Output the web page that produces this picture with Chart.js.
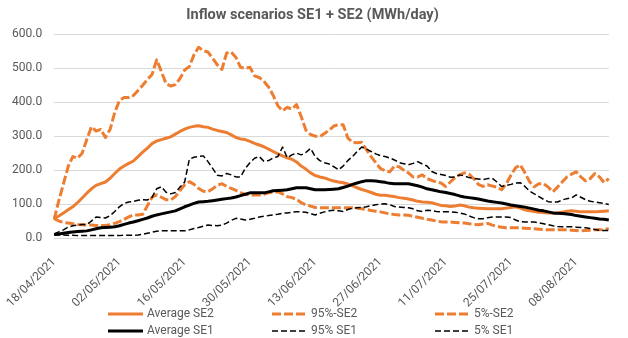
<!DOCTYPE html>
<html>
<head>
<meta charset="utf-8">
<script src="https://cdn.jsdelivr.net/npm/chart.js@4.4.0/dist/chart.umd.min.js"></script>
<style>
  html, body { margin: 0; padding: 0; background: #fff; }
  #wrap { width: 628px; height: 338px; }
</style>
</head>
<body>
<div id="wrap"><canvas id="myChart" width="628" height="338"></canvas></div>
<script>
// days from 18/04/2021 to 15/08/2021
var monthDays = { 4: 30, 5: 31, 6: 30, 7: 31, 8: 31 };
var dates = [];
var d = 18, m = 4;
for (var k = 0; k < 120; k++) {
    dates.push((d < 10 ? '0' + d : d) + '/0' + m + '/2021');
    d++;
    if (d > monthDays[m]) { d = 1; m++; }
}

var avgSE2 = [57, 65, 74, 83, 92, 104, 118, 132, 145, 155, 160, 165, 176, 190, 203, 212, 220, 227, 240, 253,
    265, 278, 286, 290, 294, 298, 306, 314, 321, 326, 329, 331, 328, 326, 321, 317, 314, 311, 304, 296,
    292, 290, 285, 279, 274, 269, 262, 255, 248, 242, 236, 232, 224, 212, 203, 192, 184, 180, 177, 172,
    168, 165, 163, 159, 154, 148, 143, 139, 134, 129, 126, 126, 124, 122, 119, 117, 115, 112, 108, 106,
    105, 104, 100, 96, 95, 93, 94, 97, 95, 91, 89, 88, 87, 86, 86, 86, 86, 88, 90, 92,
    88, 83, 80, 78, 76, 75, 74, 74, 74, 76, 79, 80, 79, 77, 77, 77, 77, 78, 79, 80];

var p95SE2 = [55, 110, 160, 210, 240, 235, 250, 290, 328, 315, 320, 296, 320, 370, 405, 414, 414, 420, 435, 450,
    467, 482, 525, 491, 455, 448, 452, 470, 495, 505, 540, 562, 552, 548, 530, 510, 497, 545, 548, 532,
    503, 500, 503, 478, 473, 462, 445, 420, 390, 375, 385, 380, 393, 358, 318, 305, 300, 299, 308, 318,
    330, 334, 334, 295, 282, 281, 282, 260, 240, 222, 205, 198, 195, 212, 210, 200, 192, 180, 180, 186,
    175, 170, 165, 162, 152, 165, 178, 186, 192, 188, 175, 158, 152, 157, 153, 150, 142, 160, 185, 207,
    216, 192, 166, 151, 160, 160, 150, 136, 150, 165, 180, 188, 195, 180, 168, 175, 190, 180, 163, 175];

var p5SE2 = [57, 50, 46, 44, 42, 40, 39, 38, 38, 37, 37, 37, 39, 43, 48, 55, 62, 68, 68, 70,
    95, 120, 127, 120, 113, 112, 122, 140, 157, 166, 158, 146, 138, 136, 145, 155, 160, 152, 146, 140,
    134, 128, 127, 127, 127, 129, 133, 135, 136, 130, 122, 119, 114, 104, 98, 94, 90, 89, 89, 89,
    89, 89, 89, 89, 89, 88, 86, 84, 81, 79, 77, 74, 71, 69, 68, 68, 67, 64, 61, 58,
    55, 53, 50, 48, 47, 47, 46, 45, 44, 42, 40, 39, 41, 43, 38, 34, 32, 30, 30, 30,
    30, 29, 28, 27, 26, 25, 24, 24, 24, 24, 24, 23, 22, 21, 22, 23, 24, 24, 25, 27];

var avgSE1 = [10, 12, 14, 16, 18, 19, 20, 21, 24, 27, 30, 31, 32, 33, 36, 40, 44, 47, 51, 55,
    59, 64, 68, 71, 74, 77, 80, 86, 92, 97, 102, 106, 107, 108, 110, 112, 114, 116, 118, 121,
    125, 129, 133, 133, 133, 133, 136, 139, 140, 141, 142, 145, 148, 148, 148, 145, 142, 142, 142, 143,
    144, 145, 149, 153, 158, 162, 166, 169, 169, 168, 166, 164, 161, 160, 160, 160, 160, 157, 154, 150,
    145, 142, 139, 136, 134, 131, 128, 124, 121, 119, 117, 115, 112, 109, 107, 105, 103, 100, 97, 95,
    93, 91, 88, 85, 82, 80, 77, 74, 73, 72, 71, 69, 66, 64, 62, 60, 58, 56, 55, 53];

var p95SE1 = [12, 18, 24, 32, 36, 38, 40, 40, 50, 62, 60, 59, 66, 78, 92, 102, 106, 108, 111, 113,
    112, 120, 145, 151, 135, 130, 134, 150, 165, 232, 238, 240, 242, 225, 205, 185, 183, 190, 186, 180,
    180, 205, 222, 235, 240, 226, 228, 236, 240, 268, 237, 245, 250, 245, 252, 264, 240, 228, 222, 218,
    210, 201, 212, 228, 240, 255, 268, 262, 255, 248, 243, 240, 236, 230, 222, 219, 216, 220, 225, 218,
    212, 196, 190, 187, 184, 179, 180, 186, 183, 178, 176, 174, 172, 175, 176, 165, 152, 155, 158, 162,
    163, 152, 138, 130, 122, 114, 107, 106, 106, 112, 116, 118, 127, 120, 113, 108, 106, 104, 102, 99];

var p5SE1 = [9, 9, 9, 8, 8, 7, 7, 7, 7, 7, 7, 7, 7, 7, 7, 8, 8, 8, 9, 11,
    14, 17, 20, 21, 21, 21, 21, 21, 21, 24, 28, 31, 35, 38, 37, 36, 38, 44, 52, 58,
    56, 53, 55, 58, 62, 64, 66, 68, 70, 73, 74, 76, 77, 77, 76, 72, 68, 73, 77, 80,
    82, 80, 78, 84, 88, 89, 90, 92, 95, 98, 100, 101, 98, 93, 91, 90, 89, 86, 80, 78,
    82, 81, 78, 77, 77, 77, 76, 74, 71, 65, 60, 57, 57, 60, 62, 62, 62, 62, 60, 53,
    48, 47, 47, 47, 45, 42, 39, 36, 34, 33, 33, 33, 32, 31, 30, 28, 25, 23, 22, 22];

var seriesNames = ['Average SE2', '95%-SE2', '5%-SE2', 'Average SE1', '95% SE1', '5% SE1'];
var yTicks = [0, 100, 200, 300, 400, 500, 600];

var orange = '#ED7D31';
var textGrey = '#595959';

// legend drawn in 3 columns x 2 rows like the original
var legendX = [108, 272, 435];
var legendY = [314, 331];
var legendRows = {
    id: 'legendRows',
    afterDraw: function (chart) {
        var ctx = chart.ctx;
        chart.data.datasets.forEach(function (ds, i) {
            var x = legendX[i % 3];
            var y = legendY[Math.floor(i / 3)];
            ctx.save();
            ctx.strokeStyle = ds.borderColor;
            ctx.lineWidth = ds.borderWidth;
            ctx.setLineDash(ds.borderDash || []);
            ctx.beginPath();
            ctx.moveTo(x, y);
            ctx.lineTo(x + 35, y);
            ctx.stroke();
            ctx.setLineDash([]);
            ctx.fillStyle = textGrey;
            ctx.font = '12px Roboto';
            ctx.textBaseline = 'middle';
            ctx.fillText(ds.label, x + 39, y);
            ctx.restore();
        });
    }
};

function line(label, data, color, width, dash, order) {
    return {
        label: label,
        data: data,
        borderColor: color,
        backgroundColor: color,
        borderWidth: width,
        borderDash: dash,
        borderJoinStyle: 'round',
        pointRadius: 0,
        tension: 0,
        fill: false,
        order: order
    };
}

var ctx = document.getElementById('myChart');
var chart = new Chart(ctx, {
    type: 'line',
    data: {
        labels: dates,
        datasets: [
            line(seriesNames[0], avgSE2, orange, 3, [], 6),
            line(seriesNames[1], p95SE2, orange, 3, [9, 3], 5),
            line(seriesNames[2], p5SE2, orange, 3, [9, 3], 4),
            line(seriesNames[3], avgSE1, '#000000', 3, [], 3),
            line(seriesNames[4], p95SE1, '#000000', 1.5, [6, 3], 2),
            line(seriesNames[5], p5SE1, '#000000', 1.5, [6, 3], 1)
        ]
    },
    options: {
        responsive: false,
        animation: false,
        layout: { padding: { left: 0, right: 3, top: 0, bottom: 25 } },
        plugins: {
            legend: { display: false },
            tooltip: { enabled: false },
            title: {
                display: true,
                text: 'Inflow scenarios SE1 + SE2 (MWh/day)',
                color: textGrey,
                font: { family: 'Roboto', size: 14.5, weight: 'bold' },
                padding: { top: 7, bottom: 10 }
            }
        },
        scales: {
            x: {
                grid: { display: false },
                border: { display: false },
                afterFit: function (scale) { scale.height = 75; },
                ticks: {
                    autoSkip: false,
                    minRotation: 45,
                    maxRotation: 45,
                    padding: 9,
                    color: textGrey,
                    font: { family: 'Roboto', size: 12 },
                    callback: function (val, i) {
                        return i % 14 === 0 ? dates[i] : '';
                    }
                }
            },
            y: {
                min: yTicks[0],
                max: yTicks[yTicks.length - 1],
                afterFit: function (scale) { scale.width = 50; },
                grid: { color: '#d9d9d9', drawTicks: false },
                border: { display: false },
                ticks: {
                    stepSize: 100,
                    padding: 12,
                    color: textGrey,
                    font: { family: 'Roboto', size: 12 },
                    callback: function (v) { return v.toFixed(1); }
                }
            }
        }
    },
    plugins: [legendRows]
});
</script>
</body>
</html>
